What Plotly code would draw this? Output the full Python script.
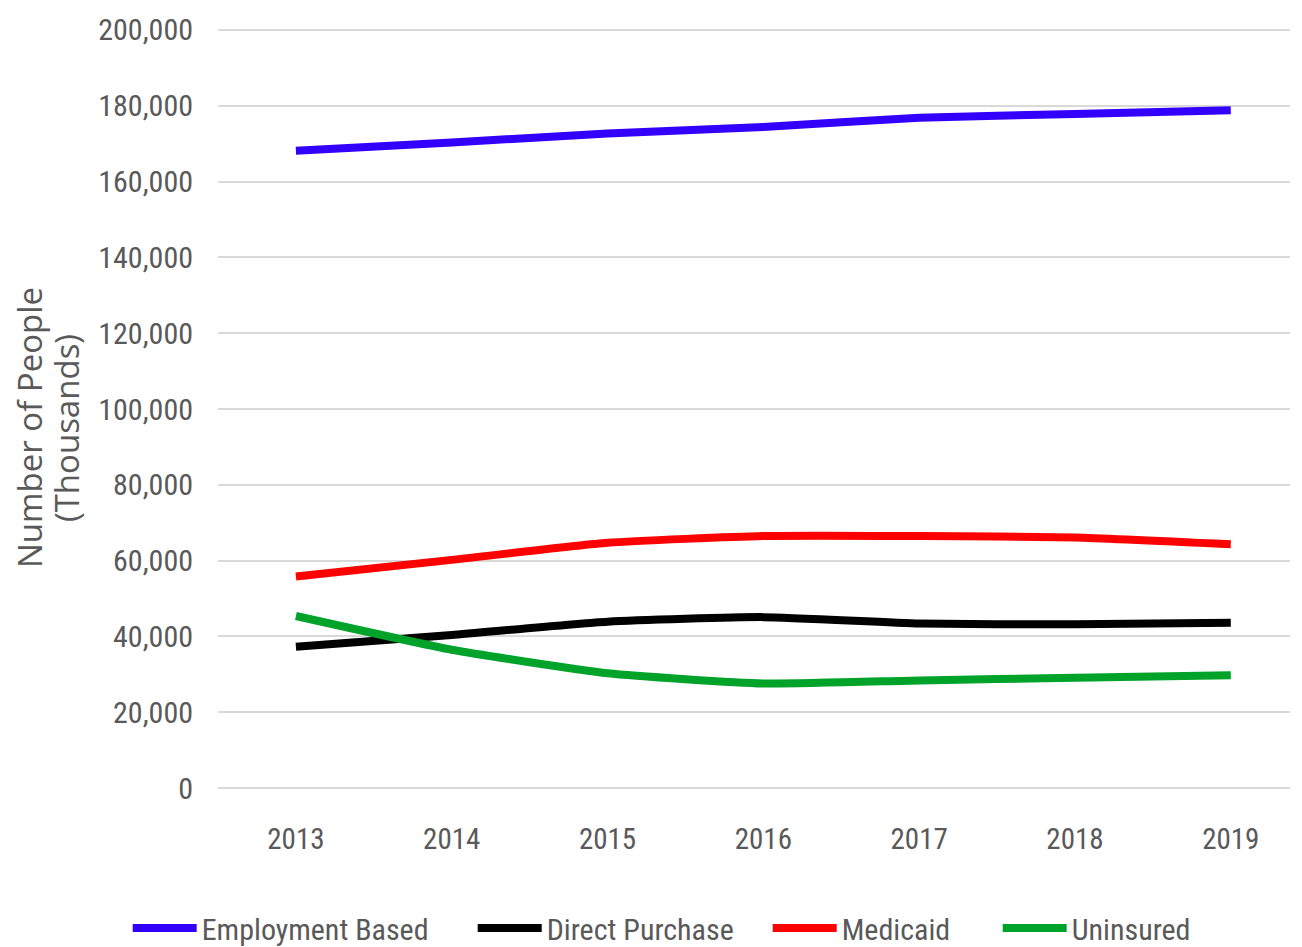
import plotly.graph_objects as go

years = ["2013", "2014", "2015", "2016", "2017", "2018", "2019"]
employment_based = [168100, 170300, 172700, 174400, 176800, 177800, 178800]
direct_purchase = [37300, 40400, 43900, 45100, 43400, 43200, 43600]
medicaid = [55800, 60200, 64700, 66500, 66500, 66100, 64300]
uninsured = [45400, 36500, 30300, 27600, 28400, 29100, 29800]

series = [
    ("Employment Based", employment_based, "#3300FF"),
    ("Direct Purchase", direct_purchase, "#000000"),
    ("Medicaid", medicaid, "#FF0000"),
    ("Uninsured", uninsured, "#00A32A"),
]

NARROW = "Roboto Condensed, Liberation Sans Narrow, sans-serif"
GRAY = "#595959"

# page is offset by the 8px body margin
W, H = 1294, 939
legend_ids = ["legend", "legend2", "legend3", "legend4"]
legend_starts = [133, 478, 773, 1003]  # page x of each legend swatch

fig = go.Figure()
for (name, vals, color), lid in zip(series, legend_ids):
    fig.add_trace(go.Scatter(
        x=years, y=vals, name=name, mode="lines", legend=lid,
        line=dict(color=color, width=8, shape="spline", smoothing=0.5),
    ))

legend_common = dict(
    orientation="h", xref="container", yref="container",
    xanchor="left", y=(H - 920) / H, yanchor="middle",
    font=dict(family=NARROW, size=30, color=GRAY),
    itemwidth=64, bgcolor="rgba(0,0,0,0)",
)
legends = {}
for lid, s in zip(legend_ids, legend_starts):
    legends[lid] = dict(legend_common, x=(s - 13.3) / W)

fig.update_layout(
    width=W, height=H,
    margin=dict(l=210, r=12, t=20, b=157, autoexpand=False),
    paper_bgcolor="white", plot_bgcolor="white",
    showlegend=True,
    annotations=[
        dict(text="Number of People", xref="paper", yref="paper",
             x=(21 - 210) / 1072, y=(780 - 420) / 758, xanchor="center", yanchor="middle",
             textangle=-90, showarrow=False,
             font=dict(family="Open Sans, sans-serif", size=33, color=GRAY)),
        dict(text="(Thousands)", xref="paper", yref="paper",
             x=(58 - 210) / 1072, y=(780 - 420) / 758, xanchor="center", yanchor="middle",
             textangle=-90, showarrow=False,
             font=dict(family="Open Sans, sans-serif", size=33, color=GRAY)),
    ],
    **legends,
)
fig.update_xaxes(
    type="category", range=[-0.5, 6.38], showgrid=False, zeroline=False,
    showline=False, ticks="", ticklabelstandoff=29, automargin=False,
    tickfont=dict(family=NARROW, size=29, color=GRAY),
)
fig.update_yaxes(
    range=[-500, 200500], tickvals=list(range(0, 200001, 20000)), tickformat=",d",
    showgrid=True, gridcolor="#D9D9D9", gridwidth=2, zeroline=False, showline=False,
    ticks="", ticklabelstandoff=24, automargin=False,
    tickfont=dict(family=NARROW, size=30, color=GRAY),
)

fig.write_html("out.html")
